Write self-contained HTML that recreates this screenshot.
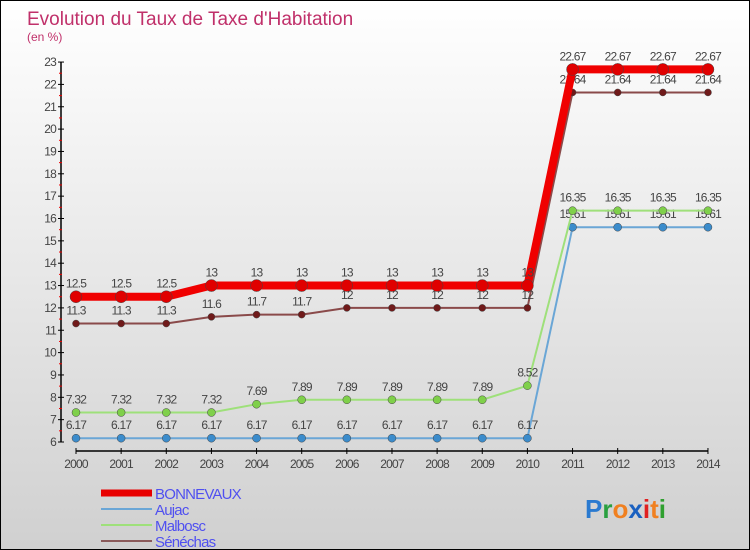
<!DOCTYPE html>
<html><head><meta charset="utf-8"><style>
body{margin:0}
#c{width:750px;height:550px;position:relative;box-sizing:border-box;border:1px solid #000;background:linear-gradient(#fff,#d0d0d0);font-family:"Liberation Sans",sans-serif;overflow:hidden}
</style></head><body>
<div id="c">
<svg id="s" width="750" height="550" style="position:absolute;left:0;top:0">
<text x="26" y="24" font-size="19" fill="#c0306a">Evolution du Taux de Taxe d'Habitation</text>
<text x="26" y="40" font-size="12" fill="#c0306a">(en %)</text>
<text x="584" y="517" font-size="26" font-weight="bold"><tspan fill="#2a7ad0">P</tspan><tspan fill="#2aa040">r</tspan><tspan fill="#f08020">o</tspan><tspan fill="#1a60c0">x</tspan><tspan fill="#e02020">i</tspan><tspan fill="#f08020">t</tspan><tspan fill="#30a030">i</tspan></text>
</svg>
</div>
<script>
const years=[2000,2001,2002,2003,2004,2005,2006,2007,2008,2009,2010,2011,2012,2013,2014];
const bonnevaux=[12.5,12.5,12.5,13,13,13,13,13,13,13,13,22.67,22.67,22.67,22.67];
const aujac=[6.17,6.17,6.17,6.17,6.17,6.17,6.17,6.17,6.17,6.17,6.17,15.61,15.61,15.61,15.61];
const malbosc=[7.32,7.32,7.32,7.32,7.69,7.89,7.89,7.89,7.89,7.89,8.52,16.35,16.35,16.35,16.35];
const senechas=[11.3,11.3,11.3,11.6,11.7,11.7,12,12,12,12,12,21.64,21.64,21.64,21.64];
const yTicks=[6,7,8,9,10,11,12,13,14,15,16,17,18,19,20,21,22,23];
const s=document.getElementById('s');const NS='http://www.w3.org/2000/svg';
const x=i=>75+i*45.14, y=v=>441-(v-6)*22.35;
function el(t,a,n){const e=document.createElementNS(NS,t);for(const k in a)e.setAttribute(k,a[k]);


s.appendChild(e);return e;}
el('line',{x1:60,y1:y(23),x2:60,y2:y(6),stroke:'#000','stroke-width':1.5},'y-axis');
yTicks.forEach(v=>{el('line',{x1:57,x2:63,y1:y(v),y2:y(v),stroke:'#000'},'y-tick');
if(v<23)el('line',{x1:58,x2:61,y1:y(v+0.5),y2:y(v+0.5),stroke:'#e00'},'y-minor-tick');
const t=el('text',{x:55,y:y(v)+4,'font-size':12,fill:'#444','text-anchor':'end','letter-spacing':'-0.8'},'y-tick-label');t.textContent=v;});
el('line',{x1:x(0),y1:450,x2:x(14),y2:450,stroke:'#000','stroke-width':1.5},'x-axis');
years.forEach((yr,i)=>{el('line',{x1:x(i),x2:x(i),y1:447,y2:453,stroke:'#000'},'x-tick');
const t=el('text',{x:x(i),y:467,'font-size':12,fill:'#444','text-anchor':'middle','letter-spacing':'-0.8'},'x-tick-label');t.textContent=yr;});
function series(d,col,w,r,dot,name){
el('polyline',{points:d.map((v,i)=>x(i)+','+y(v)).join(' '),fill:'none',stroke:col,'stroke-width':w},name+'-line');
d.forEach((v,i)=>{el('circle',{cx:x(i),cy:y(v),r:r,fill:dot,stroke:'#444','stroke-width':0.5},name+'-point');
const t=el('text',{x:x(i),y:y(v)-9,'font-size':12,fill:'#444','text-anchor':'middle','letter-spacing':'-0.8'},name+'-value-label');t.textContent=v;});}
series(aujac,'#6aa6d6',2,4,'#3b8ccc','aujac');
series(malbosc,'#9ee07a',2,4,'#7fd04a','malbosc');
series(senechas,'#8a4a4a',2,3.5,'#701a1a','senechas');
series(bonnevaux,'#f00000',8,6,'#e00000','bonnevaux');
const leg=[['BONNEVAUX','#e80000',7],['Aujac','#6aa6d6',2],['Malbosc','#9ee07a',2],['Sénéchas','#8a5a5a',2]];
leg.forEach((l,i)=>{const yy=492+i*16;el('line',{x1:100,x2:151,y1:yy,y2:yy,stroke:l[1],'stroke-width':l[2]},'legend-swatch');
const t=el('text',{x:154,y:yy+6,'font-size':15,fill:'#5050f0','letter-spacing':'-0.8'},'legend-entry');t.textContent=l[0];});
</script>
</body></html>
